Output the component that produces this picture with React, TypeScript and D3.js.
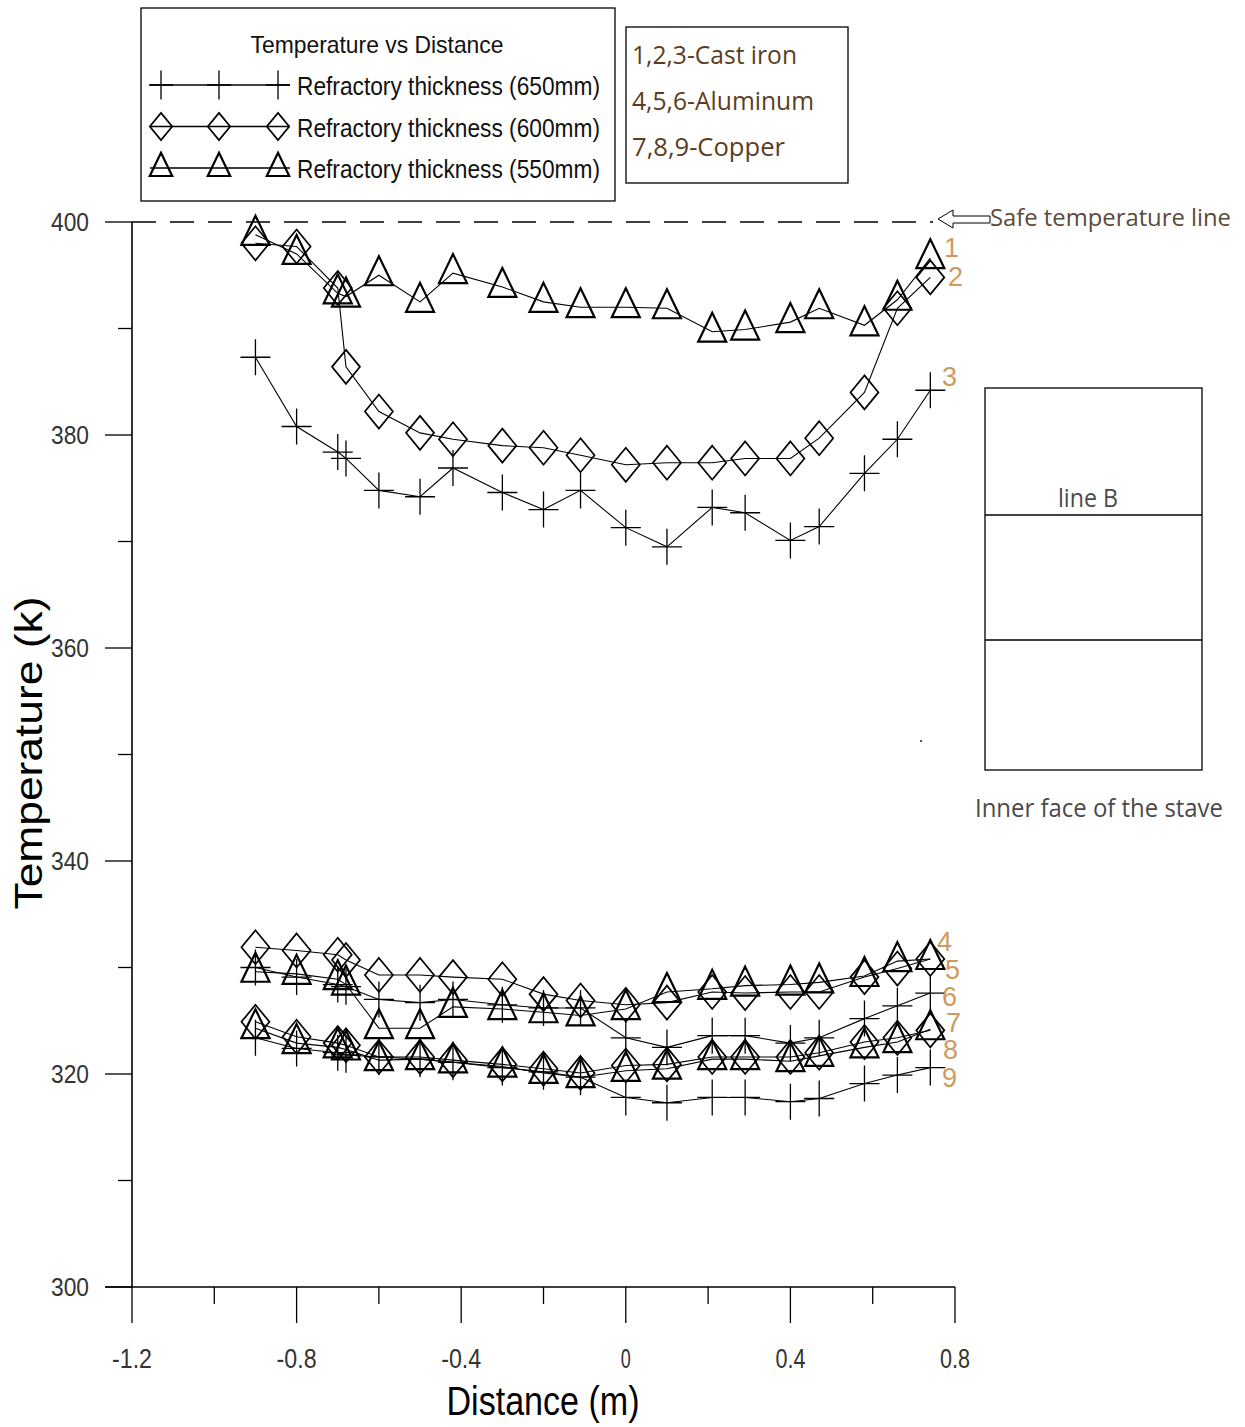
import React from "react";
import * as d3 from "d3";

// distance along the stave (m), same stations for every curve
const distances = [-0.9, -0.8, -0.7, -0.68, -0.6, -0.5, -0.42, -0.3, -0.2, -0.11, 0, 0.1, 0.21, 0.29, 0.4, 0.47, 0.58, 0.66, 0.74];

// cast iron
const castIron550 = [398.8, 397.0, 393.3, 393.0, 395.0, 392.5, 395.2, 393.9, 392.5, 392.0, 392.0, 391.9, 389.7, 389.9, 390.6, 391.9, 390.3, 392.7, 396.6];
const castIron600 = [398.0, 397.7, 393.8, 386.4, 382.2, 380.2, 379.6, 379.0, 378.8, 378.1, 377.2, 377.4, 377.4, 377.8, 377.8, 379.7, 384.0, 391.9, 394.8];
const castIron650 = [387.3, 380.8, 378.4, 377.8, 374.8, 374.2, 376.9, 374.6, 373.0, 374.8, 371.3, 369.5, 373.2, 372.7, 370.1, 371.4, 376.4, 379.6, 384.2];
// aluminum
const aluminum550 = [329.6, 329.4, 328.9, 328.4, 324.3, 324.3, 326.3, 326.1, 325.8, 325.5, 326.1, 327.7, 328.0, 328.3, 328.4, 328.6, 329.2, 330.6, 330.8];
const aluminum600 = [331.9, 331.6, 331.2, 330.7, 329.3, 329.3, 329.1, 328.9, 327.5, 326.9, 326.5, 326.7, 327.7, 327.6, 327.7, 327.7, 329.1, 329.9, 330.8];
const aluminum650 = [330.0, 329.1, 328.4, 328.2, 327.0, 326.7, 327.0, 326.5, 326.2, 326.2, 323.4, 322.5, 323.6, 323.6, 322.9, 323.4, 325.2, 326.4, 327.6];
// copper
const copper550 = [324.3, 322.9, 322.5, 322.3, 321.3, 321.4, 321.1, 320.7, 320.1, 319.7, 320.3, 320.5, 321.4, 321.4, 321.2, 321.7, 322.5, 323.0, 324.2];
const copper600 = [324.9, 323.5, 322.9, 322.7, 321.6, 321.6, 321.3, 320.9, 320.5, 320.1, 320.8, 320.9, 321.6, 321.6, 321.6, 322.0, 323.0, 323.4, 324.1];
const copper650 = [323.4, 322.4, 322.0, 321.8, 321.6, 321.4, 321.1, 320.6, 320.2, 319.7, 317.8, 317.3, 317.8, 317.8, 317.4, 317.7, 319.1, 319.9, 320.6];

const xTicks = [-1.2, -0.8, -0.4, 0, 0.4, 0.8];
const yTicks = [300, 320, 340, 360, 380, 400];
const safeTemp = 400;

const legendLabels = ["Refractory thickness (650mm)", "Refractory thickness (600mm)", "Refractory thickness (550mm)"];
const legendMarkers = ["cross", "diamond", "triangle"];
const materialLabels = ["1,2,3-Cast iron", "4,5,6-Aluminum", "7,8,9-Copper"];

const series = [
  { id: "1", marker: "triangle", values: castIron550 },
  { id: "2", marker: "diamond", values: castIron600 },
  { id: "3", marker: "cross", values: castIron650 },
  { id: "4", marker: "triangle", values: aluminum550 },
  { id: "5", marker: "diamond", values: aluminum600 },
  { id: "6", marker: "cross", values: aluminum650 },
  { id: "7", marker: "triangle", values: copper550 },
  { id: "8", marker: "diamond", values: copper600 },
  { id: "9", marker: "cross", values: copper650 },
];

// where the curve numbers sit (layout only)
const numberPos = {
  "1": [944, 257], "2": [948, 286], "3": [942, 386],
  "4": [937, 951], "5": [945, 979], "6": [942, 1006],
  "7": [946, 1032], "8": [943, 1059], "9": [942, 1087],
};

const narrow = '"Liberation Sans Narrow", "Arial Narrow", "Liberation Sans", Arial, sans-serif';
const humanist = '"Open Sans", "Noto Sans", sans-serif';

function Marker({ type, x, y, s = 1 }) {
  if (type === "cross") {
    return <path d={`M${x - 15 * s},${y}H${x + 15 * s}M${x},${y - 18 * s}V${y + 18 * s}`} stroke="#000" strokeWidth={1.3} fill="none" />;
  }
  if (type === "diamond") {
    return <path d={`M${x},${y - 17 * s}L${x + 14 * s},${y}L${x},${y + 17 * s}L${x - 14 * s},${y}Z`} stroke="#000" strokeWidth={1.7} fill="none" />;
  }
  return <path d={`M${x},${y - 19 * s}L${x + 14 * s},${y + 10 * s}L${x - 14 * s},${y + 10 * s}Z`} stroke="#000" strokeWidth={2.2} strokeLinejoin="miter" fill="none" />;
}

export default function App() {
  const width = 1245;
  const height = 1427;

  const x = d3.scaleLinear().domain([-1.2, 0.8]).range([132, 955]);
  const y = d3.scaleLinear().domain([300, 400]).range([1287, 222]);

  const line = d3.line().x(d => x(d[0])).y(d => y(d[1]));

  const yMinor = d3.range(310, 400, 20);
  const xMinor = d3.range(-1.0, 0.8, 0.4);

  return (
    <svg width={width} height={height} style={{ position: "absolute", left: 0, top: 0, background: "#fff" }}>
      {/* legend box */}
      <rect x={141} y={8} width={474} height={193} fill="none" stroke="#000" strokeWidth={1.3} />
      <text x={377} y={53} textAnchor="middle" fontFamily={narrow} fontSize={24} textLength={253} lengthAdjust="spacingAndGlyphs" fill="#111">Temperature vs Distance</text>
      {legendLabels.map((lab, i) => {
        const ly = 85 + i * 41.5;
        return (
          <g key={lab}>
            <line x1={150} x2={290} y1={ly} y2={ly} stroke="#000" strokeWidth={1.3} />
            {[161, 219, 278].map(mx => <Marker key={mx} type={legendMarkers[i]} x={mx} y={ly} s={0.8} />)}
            <text x={297} y={ly + 10} fontFamily={narrow} fontSize={26} textLength={303} lengthAdjust="spacingAndGlyphs" fill="#111">{lab}</text>
          </g>
        );
      })}

      {/* material box */}
      <rect x={626} y={27} width={222} height={156} fill="none" stroke="#000" strokeWidth={1.3} />
      {materialLabels.map((lab, i) => (
        <text key={lab} x={632} y={64 + i * 46} fontFamily={humanist} fontSize={26} textLength={[165, 182, 153][i]} lengthAdjust="spacingAndGlyphs" fill="#5c3d22">{lab}</text>
      ))}

      {/* safe temperature line */}
      <line x1={x(-1.2)} x2={933} y1={y(safeTemp)} y2={y(safeTemp)} stroke="#000" strokeWidth={1.3} strokeDasharray="24 14" />
      <path d={`M938,${y(safeTemp) - 3}L953,${y(safeTemp) - 12}V${y(safeTemp) - 6}H990V${y(safeTemp) + 1}H953V${y(safeTemp) + 6}Z`} fill="#fff" stroke="#000" strokeWidth={1} />
      <text x={990} y={226} fontFamily={humanist} fontSize={24} textLength={241} lengthAdjust="spacingAndGlyphs" fill="#5c4a3a">Safe temperature line</text>

      {/* stave sketch */}
      <rect x={985} y={388} width={217} height={382} fill="none" stroke="#000" strokeWidth={1.3} />
      <line x1={985} x2={1202} y1={515} y2={515} stroke="#000" strokeWidth={1.3} />
      <line x1={985} x2={1202} y1={640} y2={640} stroke="#000" strokeWidth={1.3} />
      <text x={1088} y={507} textAnchor="middle" fontFamily={humanist} fontSize={26} textLength={60} lengthAdjust="spacingAndGlyphs" fill="#4a4a4a">line B</text>
      <text x={975} y={817} fontFamily={humanist} fontSize={26} textLength={248} lengthAdjust="spacingAndGlyphs" fill="#4a4a4a">Inner face of the stave</text>
      <rect x={920} y={740} width={2} height={2} fill="#555" />

      {/* axes */}
      <line x1={x(-1.2)} x2={x(-1.2)} y1={y(400)} y2={y(300)} stroke="#000" strokeWidth={1.6} />
      <line x1={105} x2={x(0.8)} y1={y(300)} y2={y(300)} stroke="#000" strokeWidth={1.6} />
      {yTicks.map(t => (
        <g key={t}>
          <line x1={105} x2={x(-1.2)} y1={y(t)} y2={y(t)} stroke="#000" strokeWidth={1.3} />
          <text x={89} y={y(t) + 9} textAnchor="end" fontFamily={narrow} fontSize={26} textLength={38} lengthAdjust="spacingAndGlyphs" fill="#333">{t}</text>
        </g>
      ))}
      {yMinor.map(t => (
        <line key={t} x1={118} x2={x(-1.2)} y1={y(t)} y2={y(t)} stroke="#000" strokeWidth={1.3} />
      ))}
      {xTicks.map(t => {
        const lab = String(+t.toFixed(1));
        return (
          <g key={t}>
            <line x1={x(t)} x2={x(t)} y1={y(300)} y2={1323} stroke="#000" strokeWidth={1.3} />
            <text x={x(t)} y={1368} textAnchor="middle" fontFamily={narrow} fontSize={27} textLength={lab.length * 10} lengthAdjust="spacingAndGlyphs" fill="#333">{lab}</text>
          </g>
        );
      })}
      {xMinor.map(t => (
        <line key={t} x1={x(t)} x2={x(t)} y1={y(300)} y2={1304} stroke="#000" strokeWidth={1.3} />
      ))}
      <text transform="translate(42,753) rotate(-90)" textAnchor="middle" fontFamily='"Liberation Sans", Arial, sans-serif' fontSize={38} textLength={313} lengthAdjust="spacingAndGlyphs" fill="#000">Temperature (k)</text>
      <text x={543} y={1415} textAnchor="middle" fontFamily={narrow} fontSize={40} textLength={193} lengthAdjust="spacingAndGlyphs" fill="#000">Distance (m)</text>

      {/* curves */}
      {series.map(s => {
        const pts = distances.map((d, i) => [d, s.values[i]]);
        return (
          <g key={s.id}>
            <path d={line(pts)} fill="none" stroke="#000" strokeWidth={1.1} />
            {pts.map((p, i) => <Marker key={i} type={s.marker} x={x(p[0])} y={y(p[1])} />)}
          </g>
        );
      })}
      {series.map(s => (
        <text key={s.id} x={numberPos[s.id][0]} y={numberPos[s.id][1]} fontFamily={narrow} fontSize={27} fill="#cf9a62">{s.id}</text>
      ))}
    </svg>
  );
}
